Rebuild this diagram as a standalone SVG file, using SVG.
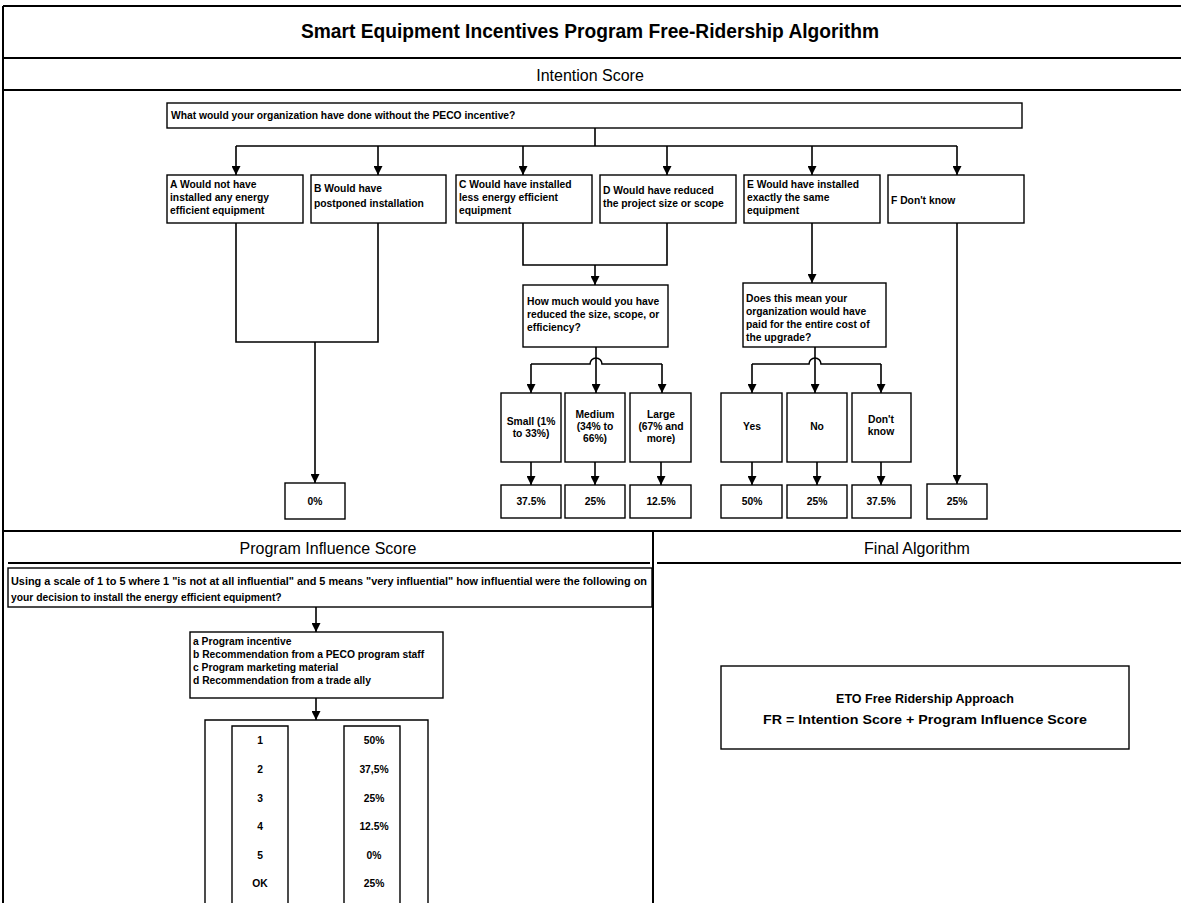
<svg xmlns="http://www.w3.org/2000/svg" width="1181" height="903" viewBox="0 0 1181 903">
<style>
.frame{stroke:#000;stroke-width:2;fill:none}
.box{fill:#fff;stroke:#000;stroke-width:1.4}
.conn{stroke:#000;stroke-width:1.6;fill:none}
.t{font-family:"Liberation Sans",Arial,sans-serif;font-weight:bold;font-size:10.3px;fill:#000}
.c{text-anchor:middle}
.h{font-family:"Liberation Sans",Arial,sans-serif;font-size:16px;fill:#000;text-anchor:middle}
.title{font-family:"Liberation Sans",Arial,sans-serif;font-weight:bold;font-size:20px;fill:#000;text-anchor:middle}
.eto{font-family:"Liberation Sans",Arial,sans-serif;font-weight:bold;font-size:12.5px;fill:#000;text-anchor:middle}
</style>
<defs>
<marker id="ah" viewBox="0 0 10 10" refX="10" refY="5" markerWidth="9" markerHeight="9" orient="auto" markerUnits="userSpaceOnUse"><path d="M0,0 L10,5 L0,10 z" fill="#000"/></marker>
</defs>
<rect width="1181" height="903" fill="#fff"/>
<g id="frame">
<path class="frame" d="M3,6 H1181 M3,6 V903 M3,58 H1181 M3,90 H1181 M3,531 H1181 M653,531 V903"/>
<path class="frame" d="M8,563 H650 M657,563 H1181" stroke-width="1.6"/>
<text class="title" x="590" y="38" textLength="578" lengthAdjust="spacingAndGlyphs">Smart Equipment Incentives Program Free-Ridership Algorithm</text>
<text class="h" x="590" y="81">Intention Score</text>
<text class="h" x="328" y="554">Program Influence Score</text>
<text class="h" x="917" y="554">Final Algorithm</text>
</g>
<g id="connectors">
<path class="conn" d="M595,128 V146 M236,146 H957"/>
<path class="conn" marker-end="url(#ah)" d="M236,146 V175"/>
<path class="conn" marker-end="url(#ah)" d="M378,146 V175"/>
<path class="conn" marker-end="url(#ah)" d="M523,146 V175"/>
<path class="conn" marker-end="url(#ah)" d="M667,146 V175"/>
<path class="conn" marker-end="url(#ah)" d="M812,146 V175"/>
<path class="conn" marker-end="url(#ah)" d="M957,146 V175"/>
<path class="conn" d="M236,223 V342 H378 V223"/>
<path class="conn" marker-end="url(#ah)" d="M315,342 V483"/>
<path class="conn" d="M523,223 V265 H667 V223"/>
<path class="conn" marker-end="url(#ah)" d="M595,265 V285"/>
<path class="conn" marker-end="url(#ah)" d="M812,223 V283"/>
<path class="conn" marker-end="url(#ah)" d="M957,223 V484"/>
<path class="conn" d="M531,364 H590 A6,6 0 0 1 602,364 H662"/>
<path class="conn" marker-end="url(#ah)" d="M596,347 V393"/>
<path class="conn" marker-end="url(#ah)" d="M531,364 V393"/>
<path class="conn" marker-end="url(#ah)" d="M662,364 V393"/>
<path class="conn" d="M752,364 H809 A6,6 0 0 1 821,364 H881"/>
<path class="conn" marker-end="url(#ah)" d="M815,347 V393"/>
<path class="conn" marker-end="url(#ah)" d="M752,364 V393"/>
<path class="conn" marker-end="url(#ah)" d="M881,364 V393"/>
<path class="conn" marker-end="url(#ah)" d="M531,462 V485"/>
<path class="conn" marker-end="url(#ah)" d="M595,462 V485"/>
<path class="conn" marker-end="url(#ah)" d="M661,462 V485"/>
<path class="conn" marker-end="url(#ah)" d="M752,462 V485"/>
<path class="conn" marker-end="url(#ah)" d="M817,462 V485"/>
<path class="conn" marker-end="url(#ah)" d="M881,462 V485"/>
<path class="conn" marker-end="url(#ah)" d="M316,607 V632"/>
<path class="conn" marker-end="url(#ah)" d="M316,698 V720"/>
<path class="conn" marker-end="url(#ah)" d="M288,740 H344"/>
<path class="conn" marker-end="url(#ah)" d="M288,769 H344"/>
<path class="conn" marker-end="url(#ah)" d="M288,798 H344"/>
<path class="conn" marker-end="url(#ah)" d="M288,826 H344"/>
<path class="conn" marker-end="url(#ah)" d="M288,855 H344"/>
<path class="conn" marker-end="url(#ah)" d="M288,883 H344"/>
</g>
<g id="q-main">
<rect class="box" x="167" y="103" width="855" height="25"/>
<text class="t" x="171" y="119">What would your organization have done without the PECO incentive?</text>
</g>
<g id="opt-a">
<rect class="box" x="167" y="175" width="136" height="48"/>
<text class="t" x="170" y="188">A Would not have</text>
<text class="t" x="170" y="201">installed any energy</text>
<text class="t" x="170" y="214">efficient equipment</text>
</g>
<g id="opt-b">
<rect class="box" x="311" y="175" width="135" height="48"/>
<text class="t" x="314" y="192">B  Would have</text>
<text class="t" x="314" y="207">postponed installation</text>
</g>
<g id="opt-c">
<rect class="box" x="456" y="175" width="136" height="48"/>
<text class="t" x="459" y="188">C  Would have installed</text>
<text class="t" x="459" y="201">less energy efficient</text>
<text class="t" x="459" y="214">equipment</text>
</g>
<g id="opt-d">
<rect class="box" x="600" y="175" width="136" height="48"/>
<text class="t" x="603" y="194">D  Would have reduced</text>
<text class="t" x="603" y="207">the project size or scope</text>
</g>
<g id="opt-e">
<rect class="box" x="744" y="175" width="136" height="48"/>
<text class="t" x="747" y="188">E  Would have installed</text>
<text class="t" x="747" y="201">exactly the same</text>
<text class="t" x="747" y="214">equipment</text>
</g>
<g id="opt-f">
<rect class="box" x="888" y="175" width="136" height="48"/>
<text class="t" x="891" y="204">F  Don't know</text>
</g>
<g id="q-reduce">
<rect class="box" x="523" y="285" width="145" height="62"/>
<text class="t" x="527" y="305">How much would you have</text>
<text class="t" x="527" y="318">reduced the size, scope, or</text>
<text class="t" x="527" y="331">efficiency?</text>
</g>
<g id="q-paid">
<rect class="box" x="743" y="283" width="143" height="64"/>
<text class="t" x="746" y="302">Does this mean your</text>
<text class="t" x="746" y="315">organization would have</text>
<text class="t" x="746" y="328">paid for the entire cost of</text>
<text class="t" x="746" y="341">the upgrade?</text>
</g>
<g id="small">
<rect class="box" x="501" y="393" width="60" height="69"/>
<text class="t c" x="531" y="425">Small (1%</text>
<text class="t c" x="531" y="437">to 33%)</text>
</g>
<g id="medium">
<rect class="box" x="565" y="393" width="60" height="69"/>
<text class="t c" x="595" y="418">Medium</text>
<text class="t c" x="595" y="430">(34% to</text>
<text class="t c" x="595" y="442">66%)</text>
</g>
<g id="large">
<rect class="box" x="630" y="393" width="61" height="69"/>
<text class="t c" x="661" y="418">Large</text>
<text class="t c" x="661" y="430">(67% and</text>
<text class="t c" x="661" y="442">more)</text>
</g>
<g id="yes">
<rect class="box" x="721" y="393" width="61" height="69"/>
<text class="t c" x="752" y="430">Yes</text>
</g>
<g id="no">
<rect class="box" x="787" y="393" width="60" height="69"/>
<text class="t c" x="817" y="430">No</text>
</g>
<g id="dontknow">
<rect class="box" x="852" y="393" width="59" height="69"/>
<text class="t c" x="881" y="423">Don't</text>
<text class="t c" x="881" y="435">know</text>
</g>
<g id="pct-a">
<rect class="box" x="285" y="483" width="60" height="36"/>
<text class="t c" x="315" y="505">0%</text>
</g>
<g id="pct-small">
<rect class="box" x="501" y="485" width="60" height="33"/>
<text class="t c" x="531" y="505">37.5%</text>
</g>
<g id="pct-medium">
<rect class="box" x="565" y="485" width="60" height="33"/>
<text class="t c" x="595" y="505">25%</text>
</g>
<g id="pct-large">
<rect class="box" x="630" y="485" width="61" height="33"/>
<text class="t c" x="661" y="505">12.5%</text>
</g>
<g id="pct-yes">
<rect class="box" x="721" y="485" width="61" height="33"/>
<text class="t c" x="752" y="505">50%</text>
</g>
<g id="pct-no">
<rect class="box" x="787" y="485" width="60" height="33"/>
<text class="t c" x="817" y="505">25%</text>
</g>
<g id="pct-dk">
<rect class="box" x="852" y="485" width="59" height="33"/>
<text class="t c" x="881" y="505">37.5%</text>
</g>
<g id="pct-f">
<rect class="box" x="927" y="484" width="60" height="35"/>
<text class="t c" x="957" y="505">25%</text>
</g>
<g id="q-influence">
<rect class="box" x="8" y="568" width="644" height="39"/>
<text class="t" x="11" y="585" textLength="636" lengthAdjust="spacingAndGlyphs">Using a scale of 1 to 5 where 1 "is not at all influential" and 5 means "very influential" how influential were the following on</text>
<text class="t" x="11" y="601">your decision to install the energy efficient equipment?</text>
</g>
<g id="items">
<rect class="box" x="190" y="632" width="253" height="66"/>
<text class="t" x="193" y="645">a  Program incentive</text>
<text class="t" x="193" y="658">b  Recommendation from a PECO program staff</text>
<text class="t" x="193" y="671">c  Program marketing material</text>
<text class="t" x="193" y="684">d  Recommendation from a trade ally</text>
</g>
<g id="scale-table">
<path class="box" d="M205,903 V720 H428 V903"/>
<path class="box" d="M232,903 V726 H288 V903 M344,903 V726 H400 V903"/>
<text class="t c" x="260" y="744">1</text>
<text class="t c" x="260" y="773">2</text>
<text class="t c" x="260" y="802">3</text>
<text class="t c" x="260" y="830">4</text>
<text class="t c" x="260" y="859">5</text>
<text class="t c" x="260" y="887">OK</text>
<text class="t c" x="374" y="744">50%</text>
<text class="t c" x="374" y="773">37,5%</text>
<text class="t c" x="374" y="802">25%</text>
<text class="t c" x="374" y="830">12.5%</text>
<text class="t c" x="374" y="859">0%</text>
<text class="t c" x="374" y="887">25%</text>
</g>
<g id="eto">
<rect class="box" x="721" y="666" width="408" height="83"/>
<text class="eto" x="925" y="703">ETO Free Ridership Approach</text>
<text class="eto" x="925" y="724" textLength="324" lengthAdjust="spacingAndGlyphs">FR = Intention Score + Program Influence Score</text>
</g>
</svg>
